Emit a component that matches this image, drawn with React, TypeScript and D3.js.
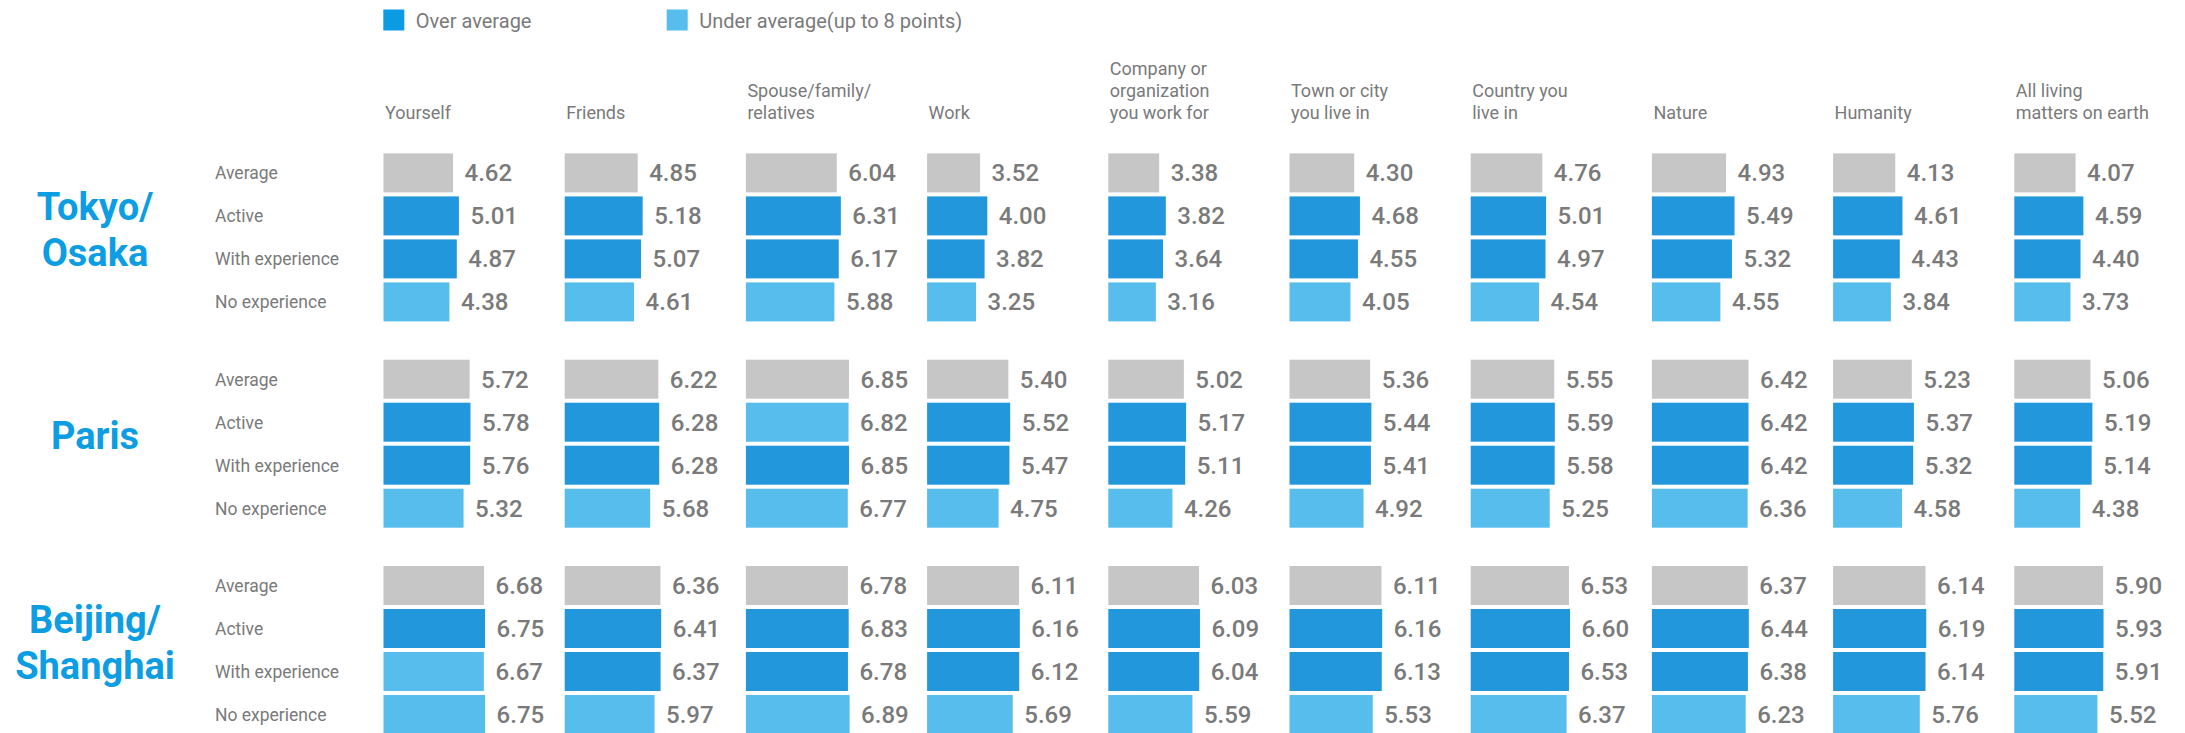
import React from "react";
import * as d3 from "d3";

const categories = [
  ["Yourself"],
  ["Friends"],
  ["Spouse/family/", "relatives"],
  ["Work"],
  ["Company or", "organization", "you work for"],
  ["Town or city", "you live in"],
  ["Country you", "live in"],
  ["Nature"],
  ["Humanity"],
  ["All living", "matters on earth"],
];

const rowLabels = ["Average", "Active", "With experience", "No experience"];

const groups = [["Tokyo/", "Osaka"], ["Paris"], ["Beijing/", "Shanghai"]];

const tokyoValues = [
  [4.62, 4.85, 6.04, 3.52, 3.38, 4.3, 4.76, 4.93, 4.13, 4.07],
  [5.01, 5.18, 6.31, 4.0, 3.82, 4.68, 5.01, 5.49, 4.61, 4.59],
  [4.87, 5.07, 6.17, 3.82, 3.64, 4.55, 4.97, 5.32, 4.43, 4.4],
  [4.38, 4.61, 5.88, 3.25, 3.16, 4.05, 4.54, 4.55, 3.84, 3.73],
];
const parisValues = [
  [5.72, 6.22, 6.85, 5.4, 5.02, 5.36, 5.55, 6.42, 5.23, 5.06],
  [5.78, 6.28, 6.82, 5.52, 5.17, 5.44, 5.59, 6.42, 5.37, 5.19],
  [5.76, 6.28, 6.85, 5.47, 5.11, 5.41, 5.58, 6.42, 5.32, 5.14],
  [5.32, 5.68, 6.77, 4.75, 4.26, 4.92, 5.25, 6.36, 4.58, 4.38],
];
const beijingValues = [
  [6.68, 6.36, 6.78, 6.11, 6.03, 6.11, 6.53, 6.37, 6.14, 5.9],
  [6.75, 6.41, 6.83, 6.16, 6.09, 6.16, 6.6, 6.44, 6.19, 5.93],
  [6.67, 6.37, 6.78, 6.12, 6.04, 6.13, 6.53, 6.38, 6.14, 5.91],
  [6.75, 5.97, 6.89, 5.69, 5.59, 5.53, 6.37, 6.23, 5.76, 5.52],
];

// colour class per cell: "A" average, "O" over average, "U" under average
const tokyoClass = [
  "AAAAAAAAAA",
  "OOOOOOOOOO",
  "OOOOOOOOOO",
  "UUUUUUUUUU",
];
const parisClass = [
  "AAAAAAAAAA",
  "OOUOOOOOOO",
  "OOOOOOOOOO",
  "UUUUUUUUUU",
];
const beijingClass = [
  "AAAAAAAAAA",
  "OOOOOOOOOO",
  "UOOOOOOOOO",
  "UUUUUUUUUU",
];

const legendItems = ["Over average", "Under average(up to 8 points)"];

const groupValues = [tokyoValues, parisValues, beijingValues];
const groupClasses = [tokyoClass, parisClass, beijingClass];

const COLORS: Record<string, string> = {
  A: "#c6c6c6",
  O: "#2397dc",
  U: "#56bdec",
};
const TEXT = "#7a7a7a";
const TITLE = "#0d9de2";
const FONT = "Roboto, 'Noto Sans', sans-serif";

export default function App() {
  const W = 2185;
  const H = 733;
  const colStep = 181.2;
  const col = d3
    .scaleBand<number>()
    .domain(d3.range(categories.length))
    .range([383.5, 383.5 + colStep * categories.length]);
  const x = d3.scaleLinear().domain([0, 10]).range([0, 150.5]);
  const groupY = d3
    .scaleBand<number>()
    .domain(d3.range(groups.length))
    .range([153.4, 153.4 + 206.3 * groups.length]);
  const barH = 39;
  const rowY = d3
    .scaleBand<number>()
    .domain(d3.range(rowLabels.length))
    .range([0, 43 * rowLabels.length - 4])
    .paddingInner(4 / 43)
    .paddingOuter(0)
    .align(0);

  return (
    <svg
      width={W}
      height={H}
      style={{ position: "absolute", left: 0, top: 0, background: "#fff" }}
      fontFamily={FONT}
    >
      {/* legend */}
      {legendItems.map((t, i) => {
        const lx = i === 0 ? 383.3 : 666.7;
        return (
          <g key={t}>
            <rect x={lx} y={9.5} width={21} height={21} fill={i === 0 ? "#0a9be3" : "#56bdec"} />
            <text x={lx + 32.5} y={28.3} fontSize={20} fill={TEXT}>
              {t}
            </text>
          </g>
        );
      })}
      {/* category headers */}
      {categories.map((lines, ci) => (
        <text key={ci} x={(col(ci) as number) + 1.5} fontSize={18} fill={TEXT}>
          {lines.map((ln, li) => (
            <tspan key={li} x={(col(ci) as number) + 1.5} y={119 - (lines.length - 1 - li) * 22}>
              {ln}
            </tspan>
          ))}
        </text>
      ))}
      {groups.map((gl, gi) => {
        const gTop = groupY(gi) as number;
        const gMid = gTop + ((rowY(3) as number) + barH) / 2;
        const lineGap = 46;
        return (
          <g key={gi}>
            {gl.map((t, li) => (
              <text
                key={li}
                x={95}
                y={gMid - 8 + (li - (gl.length - 1) / 2) * lineGap + 13.5}
                fontSize={38}
                fontWeight={700}
                fill={TITLE}
                textAnchor="middle"
              >
                {t}
              </text>
            ))}
            {rowLabels.map((rl, ri) => {
              const cy = gTop + (rowY(ri) as number) + barH / 2;
              return (
                <text key={rl} x={215} y={cy + 6.3} fontSize={17.5} fill={TEXT}>
                  {rl}
                </text>
              );
            })}
            {groupValues[gi].map((rowVals, ri) =>
              rowVals.map((v, ci) => {
                const bx = col(ci) as number;
                const by = gTop + (rowY(ri) as number);
                const w = x(v);
                const cls = groupClasses[gi][ri][ci];
                return (
                  <g key={`${ri}-${ci}`}>
                    <rect x={bx} y={by} width={w} height={barH} fill={COLORS[cls]} />
                    <text
                      x={bx + w + 11.5}
                      y={by + barH / 2 + 8.5}
                      fontSize={24}
                      fontWeight={500}
                      fill={TEXT}
                    >
                      {v.toFixed(2)}
                    </text>
                  </g>
                );
              })
            )}
          </g>
        );
      })}
    </svg>
  );
}
